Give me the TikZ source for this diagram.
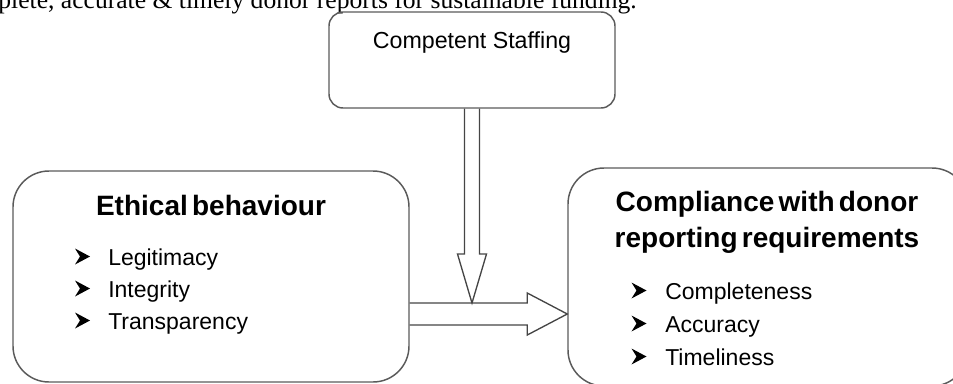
\documentclass[tikz,border=0pt]{standalone}
\usepackage{fontspec}
\setmainfont{Liberation Sans}
\newfontfamily\headfont[WordSpace=0.55]{Liberation Sans}
\newfontfamily\captionfont{Liberation Serif}
\usetikzlibrary{positioning,calc}
\definecolor{boxgray}{HTML}{5A5A5A}
\definecolor{arrowgray}{HTML}{454545}
\tikzset{
  box/.style={draw=boxgray,line width=1.1pt,rounded corners=27pt,inner sep=0},
  heading/.style={font=\headfont\bfseries\fontsize{21}{25}\selectfont,inner sep=0,anchor=base},
  item/.style={font=\fontsize{17.25}{20}\selectfont,inner sep=0,anchor=base west},
  hollow/.style={draw=arrowgray,line width=1pt,line join=miter},
  bul/.pic={\fill (-7.5,-8) -- (7.5,0) -- (-7.5,8) -- (-2.5,0) -- cycle;}
}
\begin{document}
\begin{tikzpicture}[x=0.75pt,y=-0.75pt]
	\useasboundingbox (0,0) rectangle (953,383);
	\clip (0,0) rectangle (953,383);
	% caption line cut off above the figure
	\node[font=\captionfont\fontsize{19.2}{22}\selectfont,anchor=base east,inner sep=0] (caption) at (637,8) {plete, accurate \& timely donor reports for sustainable funding.};
	% boxes
	\node[box,rounded corners=10.5pt,minimum width=214.5pt,minimum height=72pt] (staff) at (472,60) {};
	\node[box,minimum width=297pt,minimum height=158.25pt] (ethic) at (211,276.5) {};
	\node[box,minimum width=300pt,minimum height=163.5pt] (comply) at (768,277) {};
	% texts
	\node[font=\fontsize{17.4}{20}\selectfont,inner sep=0,anchor=base] (stafftext) at (472,48) {Competent Staffing};
	\node[heading] (ethictitle) at (211,215) {Ethical behaviour};
	\node[heading] (complytitle) at (767,211) {Compliance with donor};
	\node[heading] (complytitle2) at (767,247) {reporting requirements};
	\foreach \txt [count=\i] in {Legitimacy,Integrity,Transparency}{
		\node[item] (ethitem\i) at (108,233+32*\i) {\txt};
		\pic at (82.5,224.5+32*\i) {bul};
	}
	\foreach \txt [count=\i] in {Completeness,Accuracy,Timeliness}{
		\node[item] (compitem\i) at (665,266+33*\i) {\txt};
		\pic at (639,257.5+33*\i) {bul};
	}
	% block arrows
	\coordinate (flowstart) at ([shift={(0,37.5)}]ethic.east);
	\coordinate (flowtip) at (comply.west |- flowstart);
	\coordinate (flowtop) at ([shift={(0,-11)}]flowstart);
	\coordinate (droptip) at (staff.south |- flowtop);
	\draw[hollow] ([shift={(0,-11)}]flowstart) -- ([shift={(-40,-11)}]flowtip) -- ([shift={(-40,-21)}]flowtip)
		-- (flowtip) -- ([shift={(-40,21)}]flowtip) -- ([shift={(-40,11)}]flowtip) -- ([shift={(0,11)}]flowstart);
	\draw[hollow] ([shift={(-7.5,0)}]staff.south) -- ([shift={(-7.5,-49)}]droptip) -- ([shift={(-14.5,-49)}]droptip)
		-- (droptip) -- ([shift={(14.5,-49)}]droptip) -- ([shift={(7.5,-49)}]droptip) -- ([shift={(7.5,0)}]staff.south);
\end{tikzpicture}
\end{document}
